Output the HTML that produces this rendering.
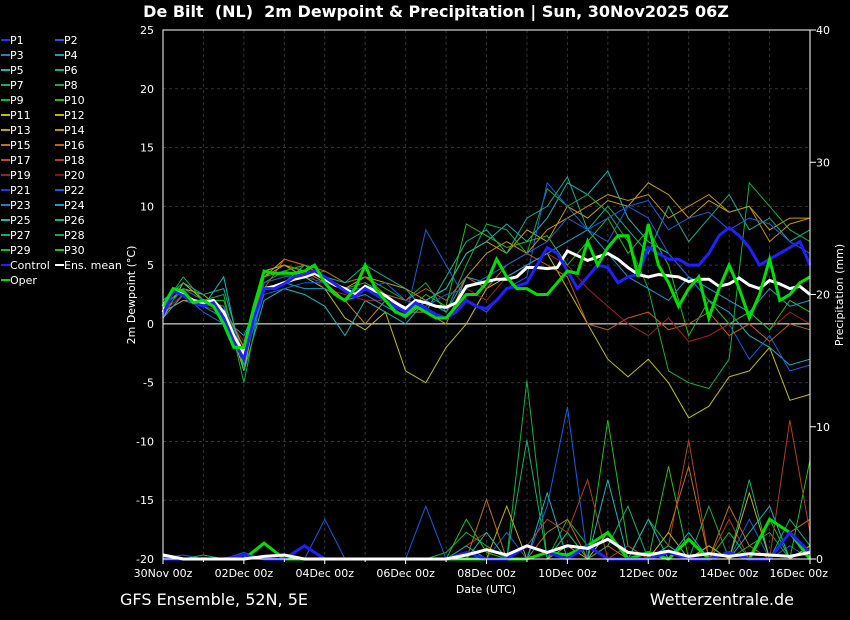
<!DOCTYPE html>
<html><head><meta charset="utf-8"><style>
html,body{margin:0;padding:0;background:#000;}
svg{display:block;font-family:"DejaVu Sans","Liberation Sans",sans-serif;}
</style></head><body>
<svg id="c" width="850" height="620" viewBox="0 0 850 620">
<rect width="850" height="620" fill="#000"/>
<text x="436" y="17" fill="#fff" font-size="16" font-weight="bold" text-anchor="middle" xml:space="preserve">De Bilt  (NL)  2m Dewpoint &amp; Precipitation | Sun, 30Nov2025 06Z</text>
<g id="grid"></g>
<g id="series"></g>
<rect x="163" y="30" width="647" height="529" fill="none" stroke="#fff" stroke-width="1"/>
<g id="axes"></g>
<g id="legend"></g>
<text x="135" y="295" fill="#fff" font-size="11" text-anchor="middle" transform="rotate(-90 135 295)">2m Dewpoint (°C)</text>
<text x="843" y="295" fill="#fff" font-size="11" text-anchor="middle" transform="rotate(-90 843 295)">Precipitation (mm)</text>
<text x="486" y="593" fill="#fff" font-size="11" text-anchor="middle">Date (UTC)</text>
<text x="120" y="605" fill="#fff" font-size="16">GFS Ensemble, 52N, 5E</text>
<text x="794" y="605" fill="#fff" font-size="16" text-anchor="end">Wetterzentrale.de</text>
</svg>
<script>
const xTickLabels=["30Nov 00z","02Dec 00z","04Dec 00z","06Dec 00z","08Dec 00z","10Dec 00z","12Dec 00z","14Dec 00z","16Dec 00z"];
const yTicks=[25,20,15,10,5,0,-5,-10,-15,-20];
const y2Ticks=[40,30,20,10,0];
const memberNames=["P1","P2","P3","P4","P5","P6","P7","P8","P9","P10","P11","P12","P13","P14","P15","P16","P17","P18","P19","P20","P21","P22","P23","P24","P25","P26","P27","P28","P29","P30"];
const memberColors=["#2030ff","#1060e0","#1a80d0","#10a0d0","#10b8c0","#10b090","#10b070","#10b040","#10c020","#20c010","#c0c000","#c8b000","#c8a000","#c89000","#c07010","#c06010","#c05010","#b04020","#a02020","#901010","#2030ff","#1060e0","#1a80d0","#10a0d0","#10b8c0","#10b090","#10b070","#10b040","#10c020","#20c010"];
const m1=[0.5,3.5,2.0,1.5,-4,4.5,5.0,4.0,3.0,0.5,-0.5,1.0,-4.0,-5.0,-2.0,0.0,3.0,4.0,5.0,6.0,3.0,0.0,-3.0,-4.5,-3.0,-5.0,-8.0,-7.0,-4.5,-4.0,-2.0,-6.5,-6.0];
const m2=[1.5,3.0,2.5,1.0,-3,4.0,5.5,5.0,4.0,3.0,4.0,3.5,3.0,2.0,3.0,6.0,7.0,6.0,8.0,7.0,10.0,9.0,10.5,10.0,12.0,11.0,9.0,10.5,9.5,10.0,8.0,9.0,9.0];
const m3=[1.0,2.0,1.5,4.0,-4.0,2.0,3.0,2.5,1.5,-1.0,2.0,1.0,0.0,2.0,3.0,6.0,7.0,8.5,7.0,9.0,12.0,11.0,13.0,9.0,7.0,6.0,4.0,2.0,1.0,-1.0,-2.0,-3.5,-3.0];
const m4=[1.5,4.0,2.0,2.5,-5.0,3.5,4.5,4.0,4.5,3.5,4.0,3.0,2.0,3.5,1.0,5.0,8.5,8.0,6.0,11.5,10.0,11.0,9.5,7.0,3.0,-4.0,-5.0,-5.5,-3.0,12.0,10.0,8.0,7.0];
const m5=[0.5,2.5,1.0,0.0,-3.0,2.5,3.0,3.5,3.5,2.0,3.0,2.0,0.5,8.0,5.0,2.0,1.0,3.0,4.0,12.0,10.0,8.0,7.0,10.0,9.0,6.0,4.0,2.0,0.0,-3.0,-1.0,-4.0,-3.5];
const m6=[1.0,3.0,2.0,1.0,-2.0,3.0,5.5,5.0,4.5,3.5,4.0,2.5,2.0,3.0,2.0,4.0,3.0,5.0,6.0,5.0,4.0,0.0,-0.5,0.5,1.0,-0.5,0.0,1.0,-1.0,0.0,-1.5,0.0,-0.5];
const m7=[1.0,2.5,1.5,1.0,-1.5,3.5,4.0,4.5,3.0,2.5,2.0,2.0,1.5,2.0,1.0,3.0,2.0,4.0,5.0,6.0,5.0,3.0,1.5,0.0,-1.0,0.5,-1.5,-1.0,0.0,1.0,-0.5,1.0,0.0];
const m8=[2.0,3.5,2.5,3.0,-3.0,3.0,3.5,5.0,4.0,3.5,5.0,4.0,3.0,1.0,4.0,7.0,8.0,6.0,9.0,10.0,12.5,8.0,10.0,8.0,6.0,10.0,7.0,9.0,11.0,8.0,9.0,7.0,8.0];
const m9=[1.0,2.0,2.0,1.5,-2.0,4.0,5.0,4.5,3.5,2.0,0.0,2.0,1.0,1.0,0.0,4.0,6.0,7.0,6.0,8.0,9.0,10.0,11.0,10.5,11.0,9.0,10.0,11.0,9.5,10.0,7.0,8.5,9.0];
const m10=[1.5,3.0,2.0,2.0,-3.5,4.0,4.5,5.0,4.0,3.0,3.5,2.5,1.0,2.5,1.5,8.5,7.5,6.5,7.0,7.5,5.0,7.0,9.0,6.0,8.0,5.0,-1.0,2.0,0.0,1.0,-0.5,2.0,1.0];
const m11=[0.5,2.5,1.5,0.5,-1.0,3.0,3.5,3.0,3.0,2.0,2.5,1.5,0.5,2.0,1.0,4.0,3.5,4.0,5.0,6.0,7.0,8.0,6.0,4.0,3.0,2.0,4.0,3.0,2.0,1.0,3.0,1.5,2.0];
const m12=[1.0,3.0,2.0,1.5,-2.5,3.5,4.0,4.0,3.5,3.0,3.0,3.5,2.0,1.5,2.5,3.0,4.0,5.0,6.0,7.0,9.0,8.0,9.0,10.0,10.5,8.0,9.0,9.5,8.0,9.0,8.5,7.0,6.0];
const pA=[0.2,0,0.1,0,0,0,0,0,0,0,0,0,0,0,0.5,2,1,0,13.5,0,3,1,2,0,3,1,0,4,0,1,2,0,1];
const pB=[0.1,0.3,0,0,0.5,0,0,0,3,0,0,0,0,4,0,1,0,2,0,4,11.5,0,2,0,0,1,0,0,0,3,0,1,0];
const pC=[0,0,0,0,0,0,0,0,0,0,0,0,0,0,0,3,0.5,0,0,0,2,0,10.5,1,0,7,0,0,2,0,3,0,7.5];
const pD=[0,0,0,0,0,0,0,0,0,0,0,0,0,0,0,1,2,0,1,3,2,6,0,1,0,1,9,0,3,0,0,10.5,2];
const pE=[0,0,0,0,0,0,0,0,0,0,0,0,0,0,0,0,4.5,0,0,2,3,0,1,0,0,2,7,0,4,1,0,2,3];
const pF=[0,0,0.3,0,0,0,0,0,0,0,0,0,0,0,0,1,0,0,9,0,2,0,1,4,0,1,0,1,0,6,0,3,1];
const pG=[0,0,0,0,0,0,0,0,0,0,0,0,0,0,0,0,0,4,0,0,1,0,2,0,0,2,0,1,0,5,0,0,1];
const pH=[0,0,0,0,0,0,0,0,0,0,0,0,0,0,0,0,2,0,0,5,0,0,6,0,3,0,2,0,0,2,4,0,0];
const meanT=[1.0,2.8,2.5,2.0,1.8,2.0,1.0,-1.0,-2.5,0.5,3.0,3.2,3.5,3.8,4.0,4.3,3.8,3.3,3.0,2.5,3.2,2.8,2.4,1.8,1.3,2.0,1.8,1.5,1.4,1.8,3.2,3.4,3.6,3.8,3.8,4.0,4.8,4.8,4.7,4.8,6.2,5.8,5.4,5.7,6.0,5.5,4.8,4.2,4.0,4.2,4.1,4.0,3.6,3.8,3.8,3.2,3.4,3.9,3.3,3.0,3.7,3.4,3.0,3.2,2.5];
const controlT=[0.8,2.8,2.4,1.8,1.5,1.8,0.5,-1.5,-3.0,0.5,3.0,3.0,3.4,4.0,4.2,4.5,4.0,3.4,2.8,2.3,3.0,2.5,2.0,1.5,1.0,1.8,1.3,0.8,0.5,1.0,2.0,1.5,1.3,2.0,3.0,3.2,3.5,5.0,6.5,6.0,4.5,3.0,4.0,5.0,4.8,3.5,4.0,4.2,6.5,6.0,5.5,5.5,5.0,5.0,6.0,7.5,8.2,7.5,6.5,5.0,5.5,6.0,6.5,7.0,5.0];
const operT=[1.5,3.0,2.8,1.8,2.0,1.5,0.0,-2.0,-2.0,1.5,4.5,4.3,4.3,4.3,4.5,5.0,3.5,2.5,2.0,3.0,5.0,3.0,2.0,1.0,0.7,1.5,1.0,0.5,0.5,1.5,2.5,2.5,3.5,5.5,4.0,3.0,3.0,2.5,2.5,3.5,4.5,4.3,7.0,5.0,6.5,7.5,7.5,4.0,8.5,5.0,3.5,1.5,3.0,4.0,0.5,3.0,5.0,3.0,0.5,2.5,5.5,2.0,2.5,3.5,4.0];
const meanP=[0.3,0,0,0,0,0.2,0.3,0,0,0,0,0,0,0,0,0.3,0.7,0.3,1.0,0.5,1.0,0.8,1.5,0.5,0.3,0.6,0.2,0.4,0.2,0.4,0.3,0.2,0.5];
const controlP=[0,0,0,0,0.3,0,0,1,0,0,0,0,0,0,0,0.5,0,0,1,0.5,0,1,0,0,0,0.5,0,0,0.5,0,0,2,0.5];
const operP=[0.3,0,0,0,0,1.2,0,0,0,0,0,0,0,0,0,0,0,0,0,0.5,0.3,1,2,0,0.5,0,1.5,0,0.5,0,3,2,0];

const members=[m1,m2,m3,m4,m5,m6,m7,m8,m9,m10,m11,m12];
const memberIdx=[10,12,4,7,1,15,18,5,13,9,23,21];
const precip=[pA,pB,pC,pD,pE,pF,pG,pH];
const precipIdx=[7,1,9,17,14,26,11,4];

const NS="http://www.w3.org/2000/svg";
const X0=163,X1=810,YT=30,YB=559;
function xPos(day){return X0+day/16*(X1-X0);}
function yT(v){return YT+(25-v)/45*(YB-YT);}
function yP(v){return YB-v/40*(YB-YT);}
function mk(tag,attrs,parent){const e=document.createElementNS(NS,tag);for(const k in attrs)e.setAttribute(k,attrs[k]);parent.appendChild(e);return e;}
function pts(arr,yf){const n=arr.length;return arr.map((v,i)=>xPos(i*16/(n-1)).toFixed(1)+","+yf(v).toFixed(1)).join(" ");}
const grid=document.getElementById('grid'),ser=document.getElementById('series'),ax=document.getElementById('axes'),leg=document.getElementById('legend');

yTicks.forEach(v=>{
  const g=mk('line',{x1:X0,x2:X1,y1:yT(v),y2:yT(v),stroke:v===0?'#fff':'#333','stroke-dasharray':v===0?'':'3,3'},grid);
  
  
  const t=mk('text',{x:154,y:yT(v)+4,fill:'#fff','font-size':11,'text-anchor':'end'},ax);
  t.textContent=v;
  
  
});
y2Ticks.forEach(v=>{
  const t=mk('text',{x:816,y:yP(v)+4,fill:'#fff','font-size':11},ax);
  t.textContent=v;
  
  
  mk('line',{x1:X1,x2:X1+6,y1:yP(v),y2:yP(v),stroke:'#fff'},ax);
});
for(let d=0;d<=16;d++){
  if(d>0&&d<16){const g=mk('line',{x1:xPos(d),x2:xPos(d),y1:YT,y2:YB,stroke:'#333','stroke-dasharray':'3,3'},grid);
  
  }
  mk('line',{x1:xPos(d),x2:xPos(d),y1:YB,y2:YB+(d%2?3:5),stroke:'#fff'},ax);
}
xTickLabels.forEach((s,i)=>{
  const last=i===xTickLabels.length-1;
  const t=mk('text',{x:last?828:xPos(i*2),y:577,fill:'#fff','font-size':11,'text-anchor':last?'end':'middle'},ax);
  t.textContent=s;
  
  
});
members.forEach((a,k)=>{
  const l=mk('polyline',{points:pts(a,yT),fill:'none',stroke:memberColors[memberIdx[k]],'stroke-width':1},ser);
  
  
});
precip.forEach((a,k)=>{
  const l=mk('polyline',{points:pts(a,yP),fill:'none',stroke:memberColors[precipIdx[k]],'stroke-width':1},ser);
  
  
});
[[operP,'#00e000','oper-precip-line'],[controlP,'#2020ff','control-precip-line'],[meanP,'#fff','mean-precip-line']].forEach(s=>{
  const l=mk('polyline',{points:pts(s[0],yP),fill:'none',stroke:s[1],'stroke-width':3},ser);
  
  
});
[[meanT,'#fff','mean-dewpoint-line'],[controlT,'#2020ff','control-dewpoint-line'],[operT,'#00e000','oper-dewpoint-line']].forEach(s=>{
  const l=mk('polyline',{points:pts(s[0],yT),fill:'none',stroke:s[1],'stroke-width':3},ser);
  
  
});
const legItems=memberNames.map((n,i)=>[n,memberColors[i]]).concat([["Control","#2020ff"],["Ens. mean","#fff"],["Oper","#00e000"]]);
legItems.forEach((it,i)=>{
  const col=i%2,row=Math.floor(i/2);
  const x=col?55:1,y=40+row*15;
  const g=mk('g',{},leg);
  
  
  mk('line',{x1:x,x2:x+9,y1:y,y2:y,stroke:it[1],'stroke-width':2},g);
  const t=mk('text',{x:x+9,y:y+4,fill:'#fff','font-size':11},g);
  t.textContent=it[0];
});
</script>
</body></html>
